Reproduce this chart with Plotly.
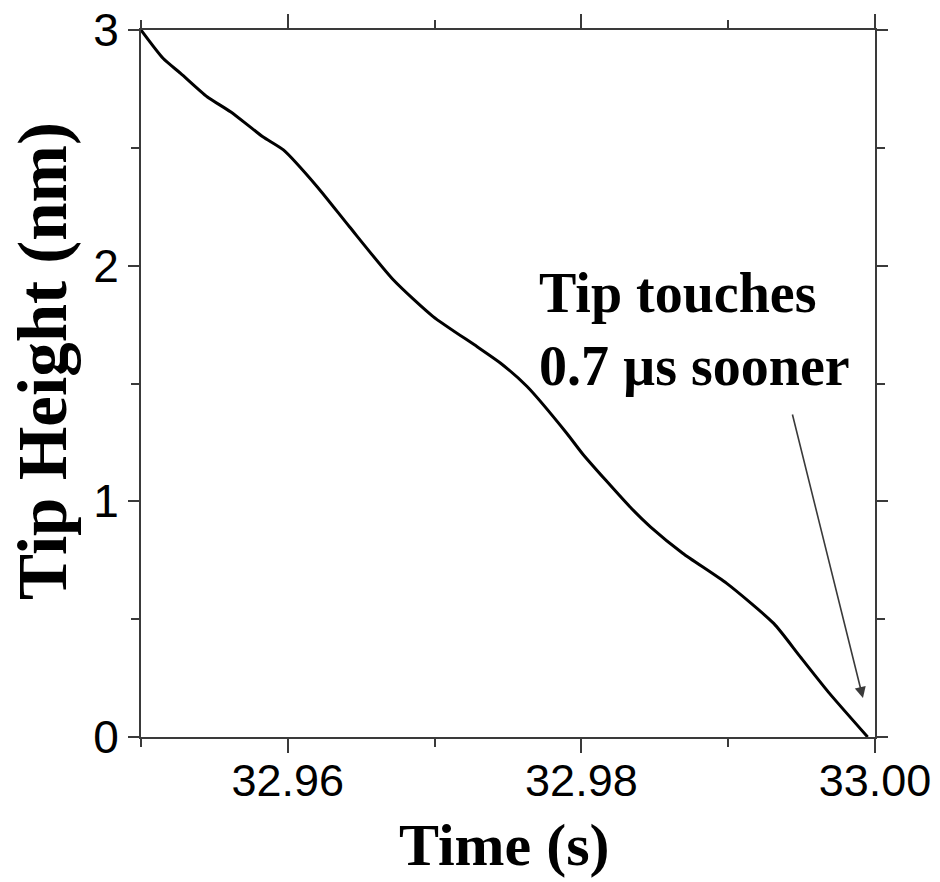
import plotly.graph_objects as go

# Data
time_s = [32.9500, 32.9515, 32.9527, 32.9545, 32.9561, 32.9583, 32.9597, 32.9620,
          32.9642, 32.9672, 32.9699, 32.9729, 32.9745, 32.9763, 32.9790, 32.9801,
          32.9833, 32.9847, 32.9869, 32.9899, 32.9931, 32.9949, 32.9969, 32.9995]
tip_height_nm = [3.000, 2.880, 2.816, 2.717, 2.653, 2.547, 2.491, 2.335,
                 2.165, 1.939, 1.784, 1.656, 1.586, 1.487, 1.289, 1.200,
                 0.977, 0.892, 0.780, 0.652, 0.482, 0.341, 0.185, 0.000]

x_tick_vals = [32.96, 32.98, 33.00]
x_tick_text = ["32.96", "32.98", "33.00"]
y_tick_vals = [0, 1, 2, 3]
y_tick_text = ["0", "1", "2", "3"]

x_title = "Time (s)"
y_title = "Tip Height (nm)"
note_lines = ["Tip touches", "0.7 µs sooner"]
arrow_tail = (32.99435, 1.375)
arrow_head = (32.99918, 0.165)
note_pos = (32.9770, 2.025)

SERIF = "Liberation Serif, Times New Roman, serif"
SANS = "Liberation Sans, Arial, sans-serif"
AXC = "#3a3a3a"

fig = go.Figure()
fig.add_trace(go.Scatter(
    x=time_s, y=tip_height_nm, mode="lines",
    line=dict(color="black", width=3, shape="spline", smoothing=0.6),
    showlegend=False, hoverinfo="skip"))

fig.add_annotation(
    x=arrow_head[0], y=arrow_head[1], ax=arrow_tail[0], ay=arrow_tail[1],
    xref="x", yref="y", axref="x", ayref="y", text="",
    showarrow=True, arrowhead=2, arrowsize=1.4, arrowwidth=1.6, arrowcolor=AXC)

fig.add_annotation(
    x=note_pos[0], y=note_pos[1], xref="x", yref="y",
    text="<br>".join("<b>%s</b>" % s for s in note_lines),
    showarrow=False, xanchor="left", yanchor="top", align="left",
    font=dict(family=SERIF, size=56, color="black"))

# axis titles placed as text to match their positions in the reference
fig.add_annotation(
    x=-0.1335, y=0.532, xref="paper", yref="paper",
    text="<b>%s</b>" % y_title, textangle=-90, showarrow=False,
    xanchor="center", yanchor="middle",
    font=dict(family=SERIF, size=69, color="black"))
fig.add_annotation(
    x=0.4946, y=-0.1528, xref="paper", yref="paper",
    text="<b>%s</b>" % x_title, showarrow=False,
    xanchor="center", yanchor="middle",
    font=dict(family=SERIF, size=60, color="black"))

fig.update_layout(
    width=940, height=882,
    margin=dict(l=141, r=65, t=30, b=145),
    paper_bgcolor="white", plot_bgcolor="white",
    xaxis=dict(
        range=[32.95, 33.00], tickvals=x_tick_vals, ticktext=x_tick_text,
        ticks="outside", ticklen=14, tickwidth=2, tickcolor=AXC,
        minor=dict(dtick=0.01, tick0=32.95, ticks="outside", ticklen=8,
                   tickwidth=2, tickcolor=AXC),
        showline=True, linecolor=AXC, linewidth=2, mirror="ticks",
        showgrid=False, zeroline=False, automargin=False,
        ticklabelstandoff=-11,
        tickfont=dict(family=SANS, size=45, color="black")),
    yaxis=dict(
        range=[0, 3], tickvals=y_tick_vals, ticktext=y_tick_text,
        ticks="outside", ticklen=11, tickwidth=2, tickcolor=AXC,
        minor=dict(dtick=0.5, tick0=0, ticks="outside", ticklen=8,
                   tickwidth=2, tickcolor=AXC),
        showline=True, linecolor=AXC, linewidth=2, mirror="ticks",
        showgrid=False, zeroline=False, automargin=False,
        tickfont=dict(family=SANS, size=46, color="black")),
)

fig.write_html("out.html")
